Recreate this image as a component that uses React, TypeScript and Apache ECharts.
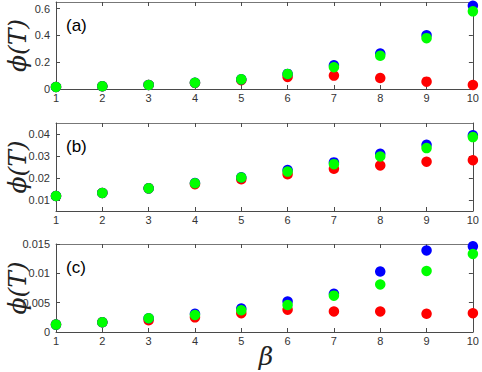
import React, { useEffect, useRef } from "react";
import * as echarts from "echarts";

const betas = [1, 2, 3, 4, 5, 6, 7, 8, 9, 10];

const aBlue = [0.015, 0.02, 0.03, 0.047, 0.072, 0.113, 0.177, 0.265, 0.402, 0.622];
const aRed = [0.015, 0.02, 0.03, 0.045, 0.066, 0.09, 0.1, 0.082, 0.055, 0.03];
const aGreen = [0.015, 0.02, 0.03, 0.047, 0.072, 0.112, 0.163, 0.248, 0.38, 0.58];

const bBlue = [0.0118, 0.0132, 0.0153, 0.0177, 0.0203, 0.0236, 0.0271, 0.031, 0.0351, 0.0394];
const bRed = [0.0118, 0.0132, 0.0153, 0.0172, 0.0194, 0.0217, 0.0242, 0.0257, 0.0274, 0.0281];
const bGreen = [0.0118, 0.0132, 0.0153, 0.0176, 0.0202, 0.0229, 0.0263, 0.0298, 0.0336, 0.0386];

const cBlue = [0.00126, 0.00166, 0.00235, 0.0031, 0.004, 0.0052, 0.0065, 0.0103, 0.0139, 0.0146];
const cRed = [0.00126, 0.00166, 0.002, 0.0025, 0.0032, 0.0038, 0.0035, 0.0035, 0.0031, 0.0032];
const cGreen = [0.00126, 0.00166, 0.00235, 0.0029, 0.0037, 0.0046, 0.0062, 0.0081, 0.0104, 0.0133];

const aTicks = [0, 0.2, 0.4, 0.6];
const bTicks = [0.01, 0.02, 0.03, 0.04];
const cTicks = [0, 0.005, 0.01, 0.015];

const panels = [
  { label: "(a)", min: 0, max: 0.65, ticks: aTicks, blue: aBlue, red: aRed, green: aGreen, top: 2, bottom: 89 },
  { label: "(b)", min: 0.005, max: 0.045, ticks: bTicks, blue: bBlue, red: bRed, green: bGreen, top: 123, bottom: 211 },
  { label: "(c)", min: 0, max: 0.015, ticks: cTicks, blue: cBlue, red: cRed, green: cGreen, top: 244, bottom: 332 },
];

const W = 482;
const H = 372;
const LEFT = 56;
const RIGHT = 474;
const AXIS = "#4a4a4a";
const TEXT = "#333333";

export default function App() {
  const ref = useRef<HTMLDivElement>(null);
  useEffect(() => {
    if (!ref.current) return;
    const chart = echarts.init(ref.current, null, { renderer: "svg" });
    const grid: any[] = [];
    const xAxis: any[] = [];
    const yAxis: any[] = [];
    const series: any[] = [];
    const graphic: any[] = [];
    panels.forEach((p, i) => {
      grid.push({ left: LEFT, width: RIGHT - LEFT, top: p.top, height: p.bottom - p.top, containLabel: false });
      const xBase = {
        type: "value", gridIndex: i, min: 1, max: 10, interval: 1,
        axisLine: { show: true, onZero: false, lineStyle: { color: AXIS, width: 1 } },
        axisTick: { show: true, inside: true, length: 4, lineStyle: { color: AXIS } },
        splitLine: { show: false },
      };
      xAxis.push({
        ...xBase, position: "bottom",
        axisLabel: { show: true, color: TEXT, fontSize: 11, fontFamily: "Liberation Sans, Arial, sans-serif", margin: 3 },
      });
      xAxis.push({ ...xBase, position: "top", axisLabel: { show: false }, axisLine: { show: true, onZero: false, lineStyle: { color: "#777", width: 1 } } });
      const yBase = {
        type: "value", gridIndex: i, min: p.min, max: p.max,
        axisLine: { show: true, onZero: false, lineStyle: { color: AXIS, width: 1 } },
        axisTick: { show: true, inside: true, length: 4, customValues: p.ticks, lineStyle: { color: AXIS } },
        splitLine: { show: false },
      };
      yAxis.push({
        ...yBase, position: "left",
        axisLabel: {
          show: true, customValues: p.ticks, color: TEXT, fontSize: 11,
          fontFamily: "Liberation Sans, Arial, sans-serif", margin: 6,
          formatter: (v: number) => String(v),
        },
      });
      yAxis.push({ ...yBase, position: "right", axisLabel: { show: false } });
      const mk = (name: string, data: number[], color: string) => ({
        type: "scatter", name, xAxisIndex: i * 2, yAxisIndex: i * 2,
        data: betas.map((b, k) => [b, data[k]]),
        symbol: "circle", symbolSize: 10.5,
        itemStyle: { color, opacity: 1 },
        clip: false,
      });
      series.push(mk("red", p.red, "#ff0000"));
      series.push(mk("blue", p.blue, "#0000ff"));
      series.push(mk("green", p.green, "#00ff00"));
      graphic.push({
        type: "text", x: 66, y: p.top + 23,
        style: { text: p.label, fontSize: 17, fill: "#000", fontFamily: "Liberation Sans, Arial, sans-serif", verticalAlign: "middle" },
      });
      graphic.push({
        type: "text", x: 17, y: (p.top + p.bottom) / 2, rotation: Math.PI / 2,
        style: {
          text: "ϕ(T)", fontSize: 25, fontStyle: "italic", fill: "#222",
          fontFamily: "DejaVu Serif, serif", align: "center", verticalAlign: "middle",
        },
      });
    });
    graphic.push({
      type: "text", x: 266, y: 356,
      style: {
        text: "β", fontSize: 25, fontStyle: "italic", fill: "#222",
        fontFamily: "DejaVu Serif, serif", align: "center", verticalAlign: "middle",
      },
    });
    chart.setOption({ animation: false, backgroundColor: "#fff", grid, xAxis, yAxis, series, graphic });
    return () => chart.dispose();
  }, []);
  return <div ref={ref} style={{ position: "fixed", left: 0, top: 0, width: W, height: H }} />;
}
